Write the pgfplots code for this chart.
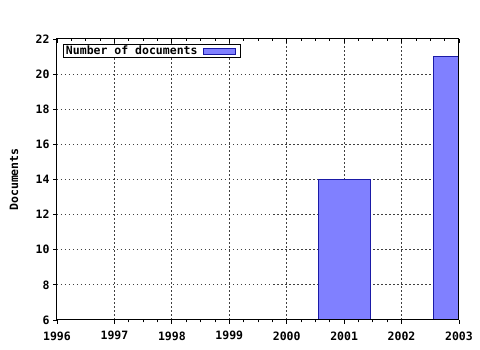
\documentclass[border=0pt]{standalone}
\usepackage{fontspec}
\setmainfont{DejaVu Sans Mono}
\usepackage{pgfplots}
\pgfplotsset{compat=1.18}
\definecolor{barfill}{HTML}{8080FF}
\definecolor{baredge}{HTML}{1A1AA6}
\newcommand{\lblfont}{\bfseries\fontsize{11.5}{11.5}\selectfont}
\pgfplotsset{boxlegend/.style={legend image code/.code={\path (0pt,0pt) (40pt,0pt); \draw[##1, line width=0.9pt] (4pt,-3pt) rectangle (36pt,3pt);}}}
\begin{document}
\begin{tikzpicture}
\useasboundingbox (-57pt,-30pt) rectangle (423pt,320pt);
\begin{axis}[
  scale only axis, width=402pt, height=281pt,
  xmin=1996, xmax=2003, ymin=6, ymax=22,
  xtick={1997,1998,1999,2000,2001,2002},
  xticklabels={1997,1998,1999,2000,2001,2002},
  extra x ticks={1996,2003},
  extra x tick labels={1996,2003},
  extra x tick style={grid=none, tick align=outside},
  ytick={8,10,12,14,16,18,20},
  extra y ticks={6,22},
  extra y tick style={grid=none, tick align=outside},
  minor x tick num=3,
  xtick pos=left, ytick pos=left, tick align=outside,
  major tick length=4pt, minor tick length=2.5pt,
  grid=major,
  major grid style={dash pattern=on 1.5pt off 2.5pt, black!75, line width=0.8pt},
  axis line style={line width=1pt},
  tick style={black, line width=0.8pt},
  ticklabel style={font=\lblfont},
  xticklabel style={yshift=-4pt},
  /pgf/number format/assume math mode=true,
  ylabel={Documents},
  ylabel style={at={(axis description cs:-0.107,0.5)}, anchor=center, font=\lblfont},
  legend style={at={(0,1)}, anchor=north west, xshift=6pt, yshift=-5pt,
    draw=black, line width=1pt, inner xsep=1pt, inner ysep=0pt,
    nodes={inner sep=1.5pt}, font=\lblfont},
  legend cell align=left,
  legend plot pos=right,
  ybar, bar width=0.9,
]
\addplot[fill=barfill, draw=baredge, line width=0.9pt, bar shift=0pt, boxlegend]
  coordinates {(2001,14) (2003,21)};
\addlegendentry{Number of documents}
\end{axis}
\begin{axis}[
  scale only axis, width=402pt, height=281pt,
  xmin=1996, xmax=2003, ymin=6, ymax=22,
  xtick={1996,1997,1998,1999,2000,2001,2002,2003},
  xticklabels={},
  minor x tick num=3,
  xtick pos=right, tick align=inside, ytick=\empty,
  major tick length=4pt, minor tick length=2.5pt,
  axis line style={line width=1pt},
  tick style={black, line width=0.8pt},
]
\end{axis}
\end{tikzpicture}
\end{document}
